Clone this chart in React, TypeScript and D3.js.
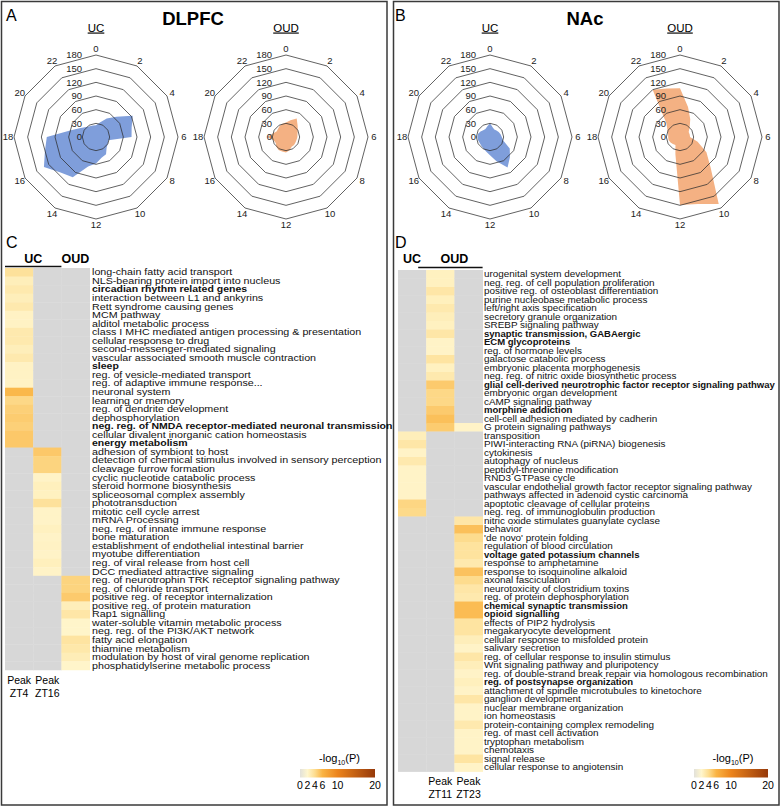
import * as d3 from "d3";

const FONT = "'Liberation Sans', Arial, Helvetica, sans-serif";
const _ = null;

// radar: counts of rhythmic genes per peak hour (ZT)
const hours = [0, 1, 2, 3, 4, 5, 6, 7, 8, 9, 10, 11, 12, 13, 14, 15, 16, 17, 18, 19, 20, 21, 22, 23];
const hourTicks = [0, 2, 4, 6, 8, 10, 12, 14, 16, 18, 20, 22];
const ringValues = [30, 60, 90, 120, 150, 180];
const ringLabels = [0, 30, 60, 90, 120, 150, 180];

const dlpfcUc = [26, 33, 47, 63, 93, 81, 78, 28, 30, 33, 44, 47, 58, 67, 102, 110, 132, 116, 108, 57, 39, 31, 27, 26];
const dlpfcOud = [32, 38, 47, 36, 30, 26, 25, 24, 24, 25, 25, 30, 34, 33, 33, 30, 26, 28, 43, 30, 24, 25, 28, 30];
const nacUc = [30, 22, 19, 20, 22, 24, 26, 30, 50, 62, 77, 55, 40, 33, 29, 27, 26, 27, 28, 27, 24, 21, 20, 24];
const nacOud = [107, 68, 45, 30, 22, 22, 22, 40, 67, 95, 170, 152, 149, 39, 20, 22, 24, 26, 26, 27, 32, 42, 120, 110];

// heatmap: -log10(P) of enriched terms
const legendStops = [0, 2, 4, 6, 10, 20];
const legendColors = ["#e2e1da", "#fff6cd", "#fddc8e", "#fab444", "#ec841c", "#96390a"];
const legendTicks = [0, 2, 4, 6, 10, 20];

const dlpfcTerms = [
  "long-chain fatty acid transport",
  "NLS-bearing protein import into nucleus",
  "circadian rhythm related genes",
  "interaction between L1 and ankyrins",
  "Rett syndrome causing genes",
  "MCM pathway",
  "alditol metabolic process",
  "class I MHC mediated antigen processing & presentation",
  "cellular response to drug",
  "second-messenger-mediated signaling",
  "vascular associated smooth muscle contraction",
  "sleep",
  "reg. of vesicle-mediated transport",
  "reg. of adaptive immune response...",
  "neuronal system",
  "learning or memory",
  "reg. of dendrite development",
  "dephosphorylation",
  "neg. reg. of NMDA receptor-mediated neuronal transmission",
  "cellular divalent inorganic cation homeostasis",
  "energy metabolism",
  "adhesion of symbiont to host",
  "detection of chemical stimulus involved in sensory perception",
  "cleavage furrow formation",
  "cyclic nucleotide catabolic process",
  "steroid hormone biosynthesis",
  "spliceosomal complex assembly",
  "phototransduction",
  "mitotic cell cycle arrest",
  "mRNA Processing",
  "neg. reg. of innate immune response",
  "bone maturation",
  "establishment of endothelial intestinal barrier",
  "myotube differentiation",
  "reg. of viral release from host cell",
  "DCC mediated attractive signaling",
  "reg. of neurotrophin TRK receptor signaling pathway",
  "reg. of chloride transport",
  "positive reg. of receptor internalization",
  "positive reg. of protein maturation",
  "Rap1 signalling",
  "water-soluble vitamin metabolic process",
  "neg. reg. of the PI3K/AKT network",
  "fatty acid elongation",
  "thiamine metabolism",
  "modulation by host of viral genome replication",
  "phosphatidylserine metabolic process",
];
const dlpfcBold = [
  "circadian rhythm related genes",
  "sleep",
  "neg. reg. of NMDA receptor-mediated neuronal transmission",
  "energy metabolism",
];
const dlpfcUcZT4 = [
  3.6, 2.6, 3.0, 2.6, 3.0, 2.3, 2.3, 3.0, 3.0, 2.6, 3.0, 2.3, 2.3, 2.3, 5.8, 4.2, 4.6, 4.8, 4.6, 5.0, 5.0,
  _, _, _, _, _, _, _, _, _, _, _, _, _, _, _,
  _, _, _, _, _, _, _, _, _, _, _,
];
const dlpfcUcZT16 = [
  _, _, _, _, _, _, _, _, _, _, _, _, _, _, _, _, _, _, _, _, _,
  5.0, 4.4, 4.4, 2.2, 2.5, 2.4, 3.6, 2.2, 2.2, 2.4, 2.2, 2.3, 2.2, 2.5, 2.2,
  _, _, _, _, _, _, _, _, _, _, _,
];
const dlpfcOudCol = [
  _, _, _, _, _, _, _, _, _, _, _, _, _, _, _, _, _, _, _, _, _,
  _, _, _, _, _, _, _, _, _, _, _, _, _, _, _,
  4.4, 4.4, 4.9, 2.6, 3.2, 2.1, 2.1, 3.4, 3.1, 2.7, 2.1,
];

const nacTerms = [
  "urogenital system development",
  "neg. reg. of cell population proliferation",
  "positive reg. of osteoblast differentiation",
  "purine nucleobase metabolic process",
  "left/right axis specification",
  "secretory granule organization",
  "SREBP signaling pathway",
  "synaptic transmission, GABAergic",
  "ECM glycoproteins",
  "reg. of hormone levels",
  "galactose catabolic process",
  "embryonic placenta morphogenesis",
  "neg. reg. of nitric oxide biosynthetic process",
  "glial cell-derived neurotrophic factor receptor signaling pathway",
  "embryonic organ development",
  "cAMP signaling pathway",
  "morphine addiction",
  "cell-cell adhesion mediated by cadherin",
  "G protein signaling pathways",
  "transposition",
  "PIWI-interacting RNA (piRNA) biogenesis",
  "cytokinesis",
  "autophagy of nucleus",
  "peptidyl-threonine modification",
  "RND3 GTPase cycle",
  "vascular endothelial growth factor receptor signaling pathway",
  "pathways affected in adenoid cystic carcinoma",
  "apoptotic cleavage of cellular proteins",
  "neg. reg. of immunoglobulin production",
  "nitric oxide stimulates guanylate cyclase",
  "behavior",
  "'de novo' protein folding",
  "regulation of blood circulation",
  "voltage gated potassium channels",
  "response to amphetamine",
  "response to isoquinoline alkaloid",
  "axonal fasciculation",
  "neurotoxicity of clostridium toxins",
  "reg. of protein dephosphorylation",
  "chemical synaptic transmission",
  "opioid signalling",
  "effects of PIP2 hydrolysis",
  "megakaryocyte development",
  "cellular response to misfolded protein",
  "salivary secretion",
  "reg. of cellular response to insulin stimulus",
  "Wnt signaling pathway and pluripotency",
  "reg. of double-strand break repair via homologous recombination",
  "reg. of postsynapse organization",
  "attachment of spindle microtubules to kinetochore",
  "ganglion development",
  "nuclear membrane organization",
  "ion homeostasis",
  "protein-containing complex remodeling",
  "reg. of mast cell activation",
  "tryptophan metabolism",
  "chemotaxis",
  "signal release",
  "cellular response to angiotensin",
];
const nacBold = [
  "synaptic transmission, GABAergic",
  "ECM glycoproteins",
  "glial cell-derived neurotrophic factor receptor signaling pathway",
  "morphine addiction",
  "voltage gated potassium channels",
  "chemical synaptic transmission",
  "opioid signalling",
  "reg. of postsynapse organization",
];
const nacUcCol = [
  _, _, _, _, _, _, _, _, _, _, _, _, _, _, _, _, _, _, _,
  2.6, 3.2, 2.2, 3.0, 2.2, 2.2, 2.2, 2.2, 4.3, 4.1,
  _, _, _, _, _, _, _, _, _, _, _, _, _, _, _,
  _, _, _, _, _, _, _, _, _, _, _, _, _, _, _,
];
const nacOudZT11 = [
  2.4, 2.4, 3.2, 2.5, 3.0, 2.6, 2.4, 3.2, 2.2, 2.2, 3.4, 2.4, 3.0, 4.9, 4.2, 4.2, 4.9, 5.4, 4.8,
  _, _, _, _, _, _, _, _, _, _,
  _, _, _, _, _, _, _, _, _, _, _, _, _, _, _,
  _, _, _, _, _, _, _, _, _, _, _, _, _, _, _,
];
const nacOudZT23 = [
  _, _, _, _, _, _, _, _, _, _, _, _, _, _, _, _, _, _, 2.2,
  _, _, _, _, _, _, _, _, _, _,
  3.2, 5.4, 4.0, 3.5, 3.5, 3.0, 5.3, 4.0, 3.2, 3.0, 5.6, 5.6, 3.4, 3.4, 2.6,
  2.2, 3.2, 2.6, 2.2, 2.5, 2.2, 3.2, 2.2, 2.2, 3.0, 2.2, 2.2, 2.2, 3.4, 2.2,
];

const heatColor = d3.scaleLinear<string>().domain(legendStops).range(legendColors).clamp(true);

const Radar = ({ cx, cy, title, values, fill }) => {
  const r = d3.scaleLinear().domain([0, 180]).range([0, 82]);
  const a = d3.scaleLinear().domain([0, 24]).range([0, 2 * Math.PI]);
  const shape = d3
    .lineRadial<number>()
    .angle((_v, i) => a(hours[i]))
    .radius((v) => r(v))
    .curve(d3.curveLinearClosed);
  const ring = (v) =>
    d3
      .lineRadial<number>()
      .angle((h) => a(h))
      .radius(r(v))
      .curve(d3.curveLinearClosed)(hourTicks);

  return (
    <g transform={`translate(${cx},${cy})`}>
      <text x={0} y={-105.5} textAnchor="middle" fontSize={11.5} textDecoration="underline">
        {title}
      </text>
      <path d={shape(values)} fill={fill} />
      {ringValues.map((v) => (
        <path key={v} d={ring(v)} fill="none" stroke="#2e2e2e" strokeWidth={0.75} />
      ))}
      {ringLabels.map((v) => (
        <text key={v} x={-14} y={-r(v)} dy="0.35em" textAnchor="end" fontSize={9.5} fill="#222">
          {v}
        </text>
      ))}
      {hourTicks.map((h) => {
        const t = a(h);
        return (
          <text key={h} x={88 * Math.sin(t)} y={-88 * Math.cos(t)} dy="0.35em" textAnchor="middle" fontSize={9.5} fill="#222">
            {h}
          </text>
        );
      })}
    </g>
  );
};

// stretch: horizontal scale of term labels [regular, bold], the figure's type is wider than Liberation Sans
const Heatmap = ({ x0, y0, colW, rowH, terms, columns, bold, textX, stretch }) => {
  const y = d3.scaleBand<number>().domain(d3.range(terms.length)).range([y0, y0 + rowH * terms.length]);
  const x = d3.scaleBand<number>().domain(d3.range(columns.length)).range([x0, x0 + colW * columns.length]);
  return (
    <g>
      {columns.map((col, ci) =>
        col.map((v, ri) => (
          <rect
            key={`${ci}-${ri}`}
            x={x(ci)}
            y={y(ri)}
            width={x.bandwidth() + 0.4}
            height={y.bandwidth() + 0.4}
            fill={v == null ? "#d7d7d7" : heatColor(v)}
          />
        ))
      )}
      {terms.map((t, i) => {
        const isBold = bold.includes(t);
        const sx = isBold ? stretch[1] : stretch[0];
        return (
          <text
            key={t}
            transform={`translate(${textX},${y(i) + rowH / 2}) scale(${sx},1)`}
            dy="0.36em"
            fontSize={8.4}
            fontWeight={isBold ? "bold" : "normal"}
            fill="#111"
          >
            {t}
          </text>
        );
      })}
    </g>
  );
};

const Legend = ({ x0, x1, y, id }) => {
  const s = d3.scaleLinear().domain([0, 20]).range([x0, x1]);
  return (
    <g>
      <defs>
        <linearGradient id={id} x1="0%" x2="100%" y1="0%" y2="0%">
          {legendStops.map((v, i) => (
            <stop key={v} offset={`${(v / 20) * 100}%`} stopColor={legendColors[i]} />
          ))}
        </linearGradient>
      </defs>
      <text x={(x0 + x1) / 2 + 2} y={y - 7} textAnchor="middle" fontSize={11}>
        -log<tspan fontSize={7} dy={2.5}>10</tspan>
        <tspan dy={-2.5}>(P)</tspan>
      </text>
      <rect x={x0} y={y} width={x1 - x0} height={8.5} fill={`url(#${id})`} />
      {legendTicks.map((v) => (
        <text key={v} x={s(v)} y={y + 20} textAnchor="middle" fontSize={10.5}>
          {v}
        </text>
      ))}
    </g>
  );
};

const PeakLabel = ({ x, y, zt }) => (
  <text x={x} y={y} textAnchor="middle" fontSize={10.5}>
    <tspan x={x}>Peak</tspan>
    <tspan x={x} dy={13}>
      {zt}
    </tspan>
  </text>
);

export default function App() {
  const colW = 28.2;
  const cX = 5;
  const dX = 398;
  return (
    <svg
      width={781}
      height={807}
      viewBox="0 0 781 807"
      style={{ position: "absolute", left: 0, top: 0, background: "#fff", fontFamily: FONT }}
      fontFamily={FONT}
    >
      <rect x={1.5} y={1.5} width={385.5} height={803.5} fill="none" stroke="#3a3a3a" strokeWidth={1.5} />
      <rect x={393.5} y={1.5} width={385.5} height={803.5} fill="none" stroke="#3a3a3a" strokeWidth={1.5} />

      {/* panel A */}
      <text x={6} y={21} fontSize={16}>A</text>
      <text x={193} y={25} textAnchor="middle" fontSize={18.5} fontWeight="bold">DLPFC</text>
      <Radar cx={96} cy={137} title="UC" values={dlpfcUc} fill="#7f9edb" />
      <Radar cx={286} cy={137} title="OUD" values={dlpfcOud} fill="#f4b183" />

      {/* panel B */}
      <text x={395} y={21} fontSize={16}>B</text>
      <text x={585} y={25} textAnchor="middle" fontSize={18.5} fontWeight="bold">NAc</text>
      <Radar cx={490} cy={137} title="UC" values={nacUc} fill="#7f9edb" />
      <Radar cx={680} cy={137} title="OUD" values={nacOud} fill="#f4b183" />

      {/* panel C */}
      <text x={6} y={248} fontSize={16}>C</text>
      <text x={cX + colW} y={263} textAnchor="middle" fontSize={12.5} fontWeight="bold">UC</text>
      <text x={cX + colW * 2.5} y={263} textAnchor="middle" fontSize={12.5} fontWeight="bold">OUD</text>
      <line x1={cX} x2={cX + colW * 2} y1={266.5} y2={266.5} stroke="#111" strokeWidth={1.6} />
      <Heatmap
        x0={cX}
        y0={268}
        colW={colW}
        rowH={8.55}
        terms={dlpfcTerms}
        columns={[dlpfcUcZT4, dlpfcUcZT16, dlpfcOudCol]}
        bold={dlpfcBold}
        textX={92}
        stretch={[1.275, 1.25]}
      />
      <PeakLabel x={cX + colW * 0.5} y={684} zt="ZT4" />
      <PeakLabel x={cX + colW * 1.5} y={684} zt="ZT16" />
      <Legend x0={300} x1={375} y={769} id="gradC" />

      {/* panel D */}
      <text x={395} y={248} fontSize={16}>D</text>
      <text x={dX + colW * 0.5} y={263} textAnchor="middle" fontSize={12.5} fontWeight="bold">UC</text>
      <text x={dX + colW * 2} y={263} textAnchor="middle" fontSize={12.5} fontWeight="bold">OUD</text>
      <line x1={dX + colW - 8} x2={dX + colW * 3} y1={267.5} y2={267.5} stroke="#111" strokeWidth={1.6} />
      <Heatmap
        x0={dX}
        y0={270}
        colW={colW}
        rowH={8.5}
        terms={nacTerms}
        columns={[nacUcCol, nacOudZT11, nacOudZT23]}
        bold={nacBold}
        textX={484}
        stretch={[1.18, 1.135]}
      />
      <PeakLabel x={dX + colW * 1.5} y={785} zt="ZT11" />
      <PeakLabel x={dX + colW * 2.5} y={785} zt="ZT23" />
      <Legend x0={694} x1={768} y={769} id="gradD" />
    </svg>
  );
}
